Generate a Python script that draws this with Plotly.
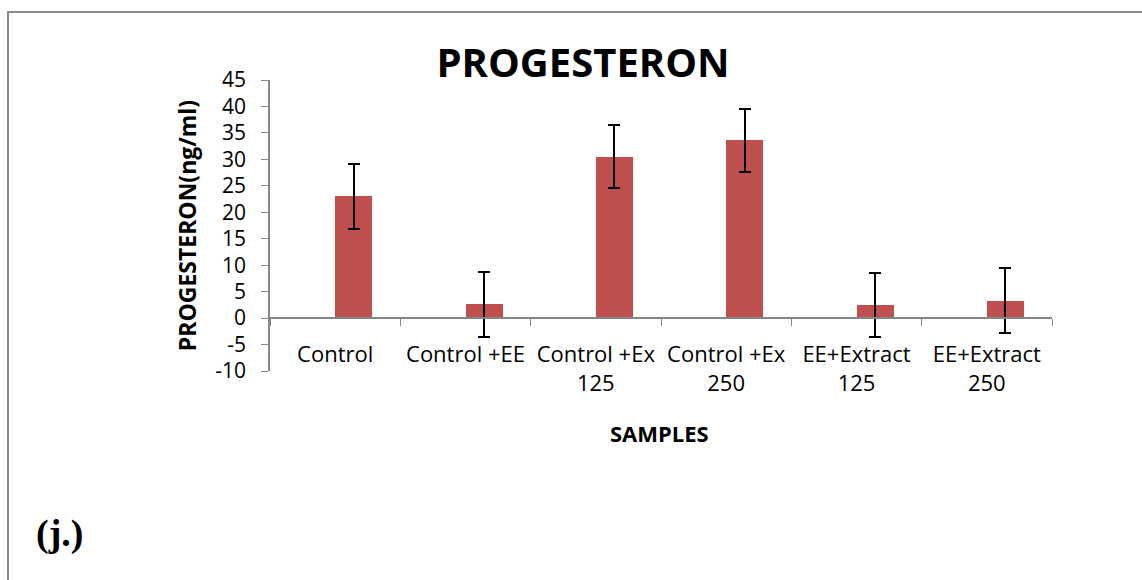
import plotly.graph_objects as go

categories = ["Control", "Control +EE", "Control +Ex<br>125", "Control +Ex<br>250",
              "EE+Extract<br>125", "EE+Extract<br>250"]
values = [23.0, 2.6, 30.5, 33.6, 2.5, 3.3]
errors = [6.1, 6.1, 6.0, 6.0, 6.1, 6.1]
y_ticks = list(range(-10, 50, 5))
y_ticktext = [str(v) for v in y_ticks]

W, H = 1142, 580
L, R, T, B = 270, 90, 80, 209
pw, ph = W - L - R, H - T - B

def px_x(x):
    return (x - L) / pw

def px_y(y):
    return (H - B - y) / ph

fig = go.Figure()
fig.add_trace(go.Bar(
    x=categories, y=values,
    marker=dict(color="#C0504D", line=dict(width=0)),
    width=0.285, offset=0,
    error_y=dict(type="data", array=errors, visible=True, color="black",
                 thickness=2, width=6),
    showlegend=False,
))

axis_gray = "#868686"
fig.update_layout(
    width=W, height=H,
    margin=dict(l=L, r=R, t=T, b=B),
    paper_bgcolor="white", plot_bgcolor="white",
    font=dict(family="Open Sans", color="black"),
    title=dict(text="<b>PROGESTERON</b>", font=dict(size=40, family="Open Sans", color="black"),
               x=583 / W, xanchor="center", xref="container",
               y=1 - 63 / H, yanchor="middle", yref="container"),
    bargap=0,
    xaxis=dict(
        type="category", tickson="boundaries", ticks="outside", ticklen=7,
        tickcolor=axis_gray, showline=True, linecolor=axis_gray, linewidth=1.5,
        showgrid=False, zeroline=False, anchor="free", position=10 / 55,
        tickfont=dict(size=22, family="Open Sans", color="black"),
        ticklabelstandoff=17,
        range=[-0.5, 5.5],
    ),
    yaxis=dict(
        range=[-10, 45], tickvals=y_ticks, ticktext=y_ticktext, ticks="outside", ticklen=7,
        tickcolor=axis_gray, showline=True, linecolor=axis_gray, linewidth=1.5,
        showgrid=False, zeroline=False,
        tickfont=dict(size=21, family="Open Sans", color="black"),
        ticklabelstandoff=11,
        title=dict(text="<b>PROGESTERON(ng/ml)</b>", font=dict(size=23, family="Open Sans"),
                   standoff=12),
    ),
    annotations=[
        dict(text="<b>SAMPLES</b>", x=px_x(659), y=px_y(433), xref="paper", yref="paper",
             showarrow=False, font=dict(size=22, family="Open Sans"), xanchor="center",
             yanchor="middle"),
        dict(text="<b>(j.)</b>", x=px_x(34), y=px_y(533), xref="paper", yref="paper",
             showarrow=False, font=dict(size=38, family="Liberation Serif"), xanchor="left",
             yanchor="middle"),
    ],
    shapes=[
        dict(type="rect", xref="paper", yref="paper",
             x0=px_x(8), x1=px_x(W + 20), y0=px_y(H + 20), y1=px_y(12),
             line=dict(color="#8a8a8a", width=2), fillcolor="rgba(0,0,0,0)", layer="below"),
    ],
)

fig.write_html("out.html", config={"displayModeBar": False},
               post_script="document.body.style.margin='0';")
